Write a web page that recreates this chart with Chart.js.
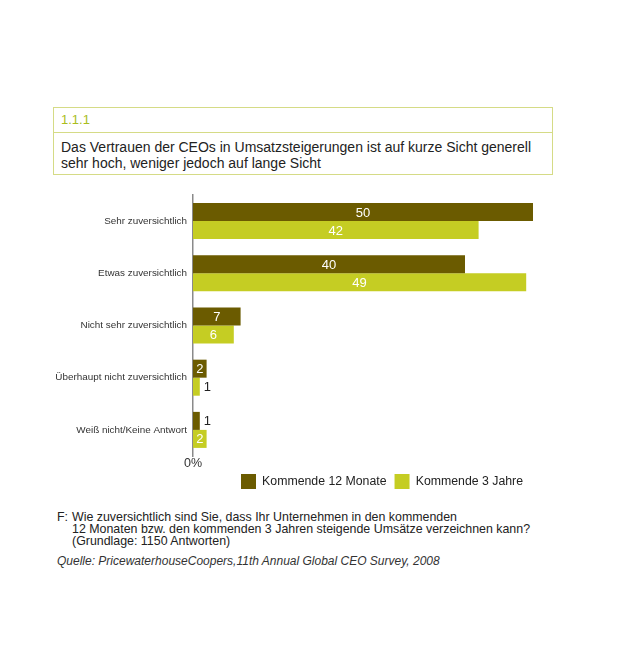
<!DOCTYPE html>
<html>
<head>
<meta charset="utf-8">
<script src="https://cdn.jsdelivr.net/npm/chart.js@4"></script>
<style>
  body { margin: 0; background: #fff; font-family: "Liberation Sans", Arial, sans-serif; }
  #page { position: relative; width: 630px; height: 664px; }
  #box { position: absolute; left: 53px; top: 107px; width: 498px; height: 66px; border: 1px solid #d5db86; }
  #num { height: 24px; border-bottom: 1px solid #d5db86; color: #a9bd1e; font-size: 13px; line-height: 24px; padding-left: 7px; }
  #title { color: #222; font-size: 14px; line-height: 16px; padding: 6px 0 0 7px; }
  #chart { position: absolute; left: 0; top: 183px; }
  #foot { position: absolute; left: 57px; top: 512px; color: #222; font-size: 12.4px; line-height: 11.8px; }
  #foot .q { display: flex; }
  #foot .q span:first-child { width: 15px; }
  #src { position: absolute; left: 57px; top: 554px; color: #333; font-size: 12px; font-style: italic; }
</style>
</head>
<body>
<div id="page">
  <div id="box">
    <div id="num">1.1.1</div>
    <div id="title">Das Vertrauen der CEOs in Umsatzsteigerungen ist auf kurze Sicht generell<br>sehr hoch, weniger jedoch auf lange Sicht</div>
  </div>
  <canvas id="chart" width="630" height="320"></canvas>
  <div id="foot">
    <div class="q"><span>F:</span><span>Wie zuversichtlich sind Sie, dass Ihr Unternehmen in den kommenden<br>12 Monaten bzw. den kommenden 3 Jahren steigende Umsätze verzeichnen kann?<br>(Grundlage: 1150 Antworten)</span></div>
  </div>
  <div id="src">Quelle: PricewaterhouseCoopers,11th Annual Global CEO Survey, 2008</div>
</div>
<script>
var categories = ['Sehr zuversichtlich', 'Etwas zuversichtlich', 'Nicht sehr zuversichtlich', 'Überhaupt nicht zuversichtlich', 'Weiß nicht/Keine Antwort'];
var next_12_months = [50, 40, 7, 2, 1];
var next_3_years = [42, 49, 6, 1, 2];
var series_names = ['Kommende 12 Monate', 'Kommende 3 Jahre'];

// value labels: white inside the bar, dark outside if the bar is too short
var bar_labels = {
  id: 'bar_labels',
  afterDatasetsDraw: function(chart) {
    var ctx = chart.ctx;
    ctx.save();
    ctx.font = '13px "Liberation Sans", Arial, sans-serif';
    ctx.textBaseline = 'middle';
    chart.data.datasets.forEach(function(ds, i) {
      chart.getDatasetMeta(i).data.forEach(function(bar, j) {
        var v = ds.data[j];
        if (v >= 2) {
          ctx.fillStyle = '#fff';
          ctx.textAlign = 'center';
          ctx.fillText(v, (bar.x + bar.base) / 2, bar.y + 1);
        } else {
          ctx.fillStyle = '#222';
          ctx.textAlign = 'left';
          ctx.fillText(v, bar.x + 4, bar.y + 1);
        }
      });
    });
    ctx.restore();
  }
};

// pull the legend a little closer to the "0%" label
var legend_nudge = {
  id: 'legend_nudge',
  afterLayout: function(chart) {
    chart.legend.top -= 4;
    chart.legend.bottom -= 4;
    chart.legend.left -= 2;
    chart.legend.right -= 2;
  }
};

var config_chart = {
  type: 'bar',
  data: {
    labels: categories,
    datasets: [
      {
        label: series_names[0],
        data: next_12_months,
        backgroundColor: '#6b5b00',
        categoryPercentage: 0.69,
        barPercentage: 1.0,
      },
      {
        label: series_names[1],
        data: next_3_years,
        backgroundColor: '#c5cd23',
        categoryPercentage: 0.69,
        barPercentage: 1.0,
      }
    ],
  },
  options: {
    indexAxis: 'y',
    responsive: false,
    animation: false,
    layout: {
      padding: { left: 0, right: 97, top: 5, bottom: 0 },
    },
    scales: {
      x: {
        min: 0,
        max: 50,
        grid: { display: false, drawTicks: false },
        border: { display: false },
        afterBuildTicks: function(scale) { scale.ticks = [{ value: 0 }]; },
        afterFit: function(scale) { scale.height = 14; },
        ticks: {
          padding: 0,
          color: '#333',
          font: { size: 12.5, family: '"Liberation Sans", Arial, sans-serif' },
          callback: function(value) { return value + '%'; },
        },
      },
      y: {
        grid: { display: false, drawTicks: false },
        border: { color: '#8a8a8a', width: 1.5 },
        afterFit: function(scale) { scale.width = 193; },
        ticks: {
          padding: 6,
          color: '#333',
          font: { size: 9.9, family: '"Liberation Sans", Arial, sans-serif' },
        },
      },
    },
    plugins: {
      legend: {
        position: 'bottom',
        align: 'end',
        fullSize: false,
        labels: {
          boxWidth: 15,
          boxHeight: 15,
          padding: 8,
          color: '#222',
          font: { size: 12.3, family: '"Liberation Sans", Arial, sans-serif' },
        },
      },
      tooltip: { enabled: false },
    },
  },
  plugins: [bar_labels, legend_nudge],
};

var chart = new Chart(document.getElementById('chart'), config_chart);
</script>
</body>
</html>
